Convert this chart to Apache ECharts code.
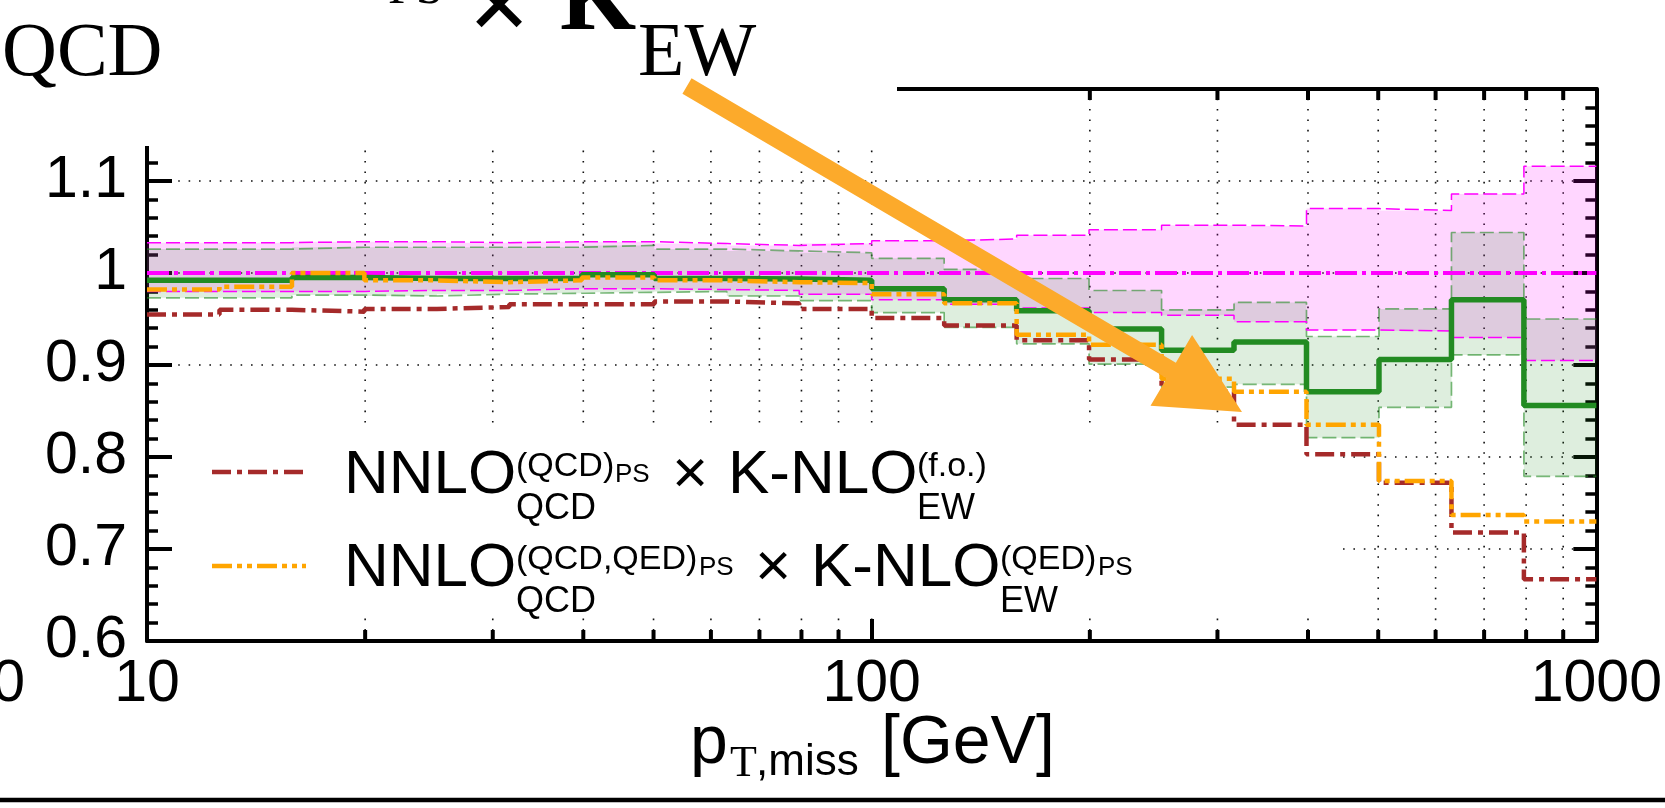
<!DOCTYPE html>
<html>
<head>
<meta charset="utf-8">
<script src="https://cdn.jsdelivr.net/npm/echarts@6/dist/echarts.min.js"></script>
<style>
  html, body { margin: 0; padding: 0; background: #fff; }
  #chart { width: 1665px; height: 808px; }
</style>
</head>
<body>
<div id="chart"></div>
<script>
// p_T,miss bin edges in GeV (ten logarithmic bins per decade)
const binEdges = [10, 12.59, 15.85, 19.95, 25.12, 31.62, 39.81, 50.12, 63.10, 79.43,
                  100, 125.9, 158.5, 199.5, 251.2, 316.2, 398.1, 501.2, 631.0, 794.3, 1000];

// Reference prediction (ratio = 1) and its scale-uncertainty envelope, magenta
const refCentral = [1, 1, 1, 1, 1, 1, 1, 1, 1, 1, 1, 1, 1, 1, 1, 1, 1, 1, 1, 1];
const refUpper   = [1.033, 1.033, 1.034, 1.034, 1.033, 1.034, 1.034, 1.032, 1.030, 1.032,
                    1.035, 1.037, 1.041, 1.047, 1.052, 1.051, 1.070, 1.068, 1.086, 1.116];
const refLower   = [0.980, 0.980, 0.980, 0.981, 0.981, 0.983, 0.983, 0.982, 0.981, 0.977,
                    0.971, 0.966, 0.962, 0.957, 0.954, 0.947, 0.938, 0.937, 0.930, 0.905];

// Combined prediction with its uncertainty envelope, green
const combCentral = [0.992, 0.992, 0.995, 0.994, 0.994, 0.994, 0.998, 0.994, 0.9935, 0.992,
                     0.983, 0.971, 0.959, 0.939, 0.916, 0.925, 0.871, 0.906, 0.971, 0.856];
const combUpper   = [1.026, 1.026, 1.028, 1.028, 1.028, 1.028, 1.030, 1.026, 1.024, 1.022,
                     1.016, 1.004, 0.994, 0.981, 0.960, 0.968, 0.931, 0.961, 1.044, 0.950];
const combLower   = [0.973, 0.973, 0.976, 0.975, 0.977, 0.978, 0.979, 0.980, 0.975, 0.970,
                     0.957, 0.941, 0.923, 0.901, 0.876, 0.879, 0.821, 0.854, 0.911, 0.779];

// NNLO(QCD)PS x K-NLO(f.o.)EW, dark red
const ratioFO  = [0.955, 0.960, 0.958, 0.961, 0.963, 0.966, 0.966, 0.969, 0.967, 0.961,
                  0.951, 0.943, 0.927, 0.906, 0.871, 0.835, 0.803, 0.772, 0.718, 0.667];
// NNLO(QCD,QED)PS x K-NLO(QED)PS EW, orange
const ratioQED = [0.982, 0.985, 1.000, 0.992, 0.990, 0.992, 0.995, 0.992, 0.990, 0.989,
                  0.977, 0.967, 0.933, 0.922, 0.885, 0.871, 0.835, 0.774, 0.737, 0.730];

// Axis ranges, grid and minor tick positions
const xRange = [10, 1000];
const yRange = [0.6, 1.2];
const yStep = 0.1;
const xGridValues  = [20, 30, 40, 50, 60, 70, 80, 90, 100, 200, 300, 400, 500, 600, 700, 800, 900];
const xMinorTicks  = [20, 30, 40, 50, 60, 70, 80, 90, 200, 300, 400, 500, 600, 700, 800, 900];

const SANS = 'Liberation Sans, Arial, Helvetica, sans-serif';
const SERIF = 'Liberation Serif, Times New Roman, serif';

const chart = echarts.init(document.getElementById('chart'), null, { renderer: 'canvas' });

// Histogram points for a step line: one point per lower edge plus the last upper edge
function stepData(values) {
  const pts = values.map((v, i) => [binEdges[i], v]);
  pts.push([binEdges[values.length], values[values.length - 1]]);
  return pts;
}

// Filled step band between two histograms
function bandSeries(lo, hi, fill, z) {
  return {
    type: 'custom', z: z, silent: true, clip: true,
    data: [[100, 1]],
    renderItem: function (params, api) {
      const pts = [];
      for (let i = 0; i < hi.length; i++) {
        pts.push(api.coord([binEdges[i], hi[i]]));
        pts.push(api.coord([binEdges[i + 1], hi[i]]));
      }
      for (let i = lo.length - 1; i >= 0; i--) {
        pts.push(api.coord([binEdges[i + 1], lo[i]]));
        pts.push(api.coord([binEdges[i], lo[i]]));
      }
      return { type: 'polygon', shape: { points: pts }, style: { fill: fill } };
    }
  };
}

function stepLine(values, color, width, dash, z) {
  return {
    type: 'line', step: 'end', z: z, silent: true,
    symbol: 'none', data: stepData(values),
    lineStyle: { color: color, width: width, type: dash, cap: 'butt' }
  };
}

// Dotted vertical grid lines
const gridSeries = {
  type: 'custom', z: 0, silent: true,
  data: [[100, 1]],
  renderItem: function (params, api) {
    return {
      type: 'group',
      children: xGridValues.map(function (v) {
        const a = api.coord([v, yRange[0]]);
        const b = api.coord([v, yRange[1]]);
        return {
          type: 'line',
          shape: { x1: a[0], y1: a[1], x2: b[0], y2: b[1] },
          style: { stroke: '#111', lineWidth: 1.6, lineDash: [1.6, 8.8] }
        };
      })
    };
  }
};

// Minor ticks of the logarithmic axes, bottom and top
const minorTickSeries = {
  type: 'custom', z: 3, silent: true,
  data: [[100, 1]],
  renderItem: function (params, api) {
    const children = [];
    xMinorTicks.forEach(function (v) {
      const a = api.coord([v, yRange[0]]);
      const b = api.coord([v, yRange[1]]);
      children.push({ type: 'line', shape: { x1: a[0], y1: a[1], x2: a[0], y2: a[1] - 11 },
                      style: { stroke: '#000', lineWidth: 4 } });
      children.push({ type: 'line', shape: { x1: b[0], y1: b[1], x2: b[0], y2: b[1] + 11 },
                      style: { stroke: '#000', lineWidth: 4 } });
    });
    return { type: 'group', children: children };
  }
};

// Text placed on an alphabetic baseline
function txt(str, x, baseline, size, family, extra) {
  const asc = family === SERIF ? 0.30 : 0.347;
  return Object.assign({
    type: 'text', z: 20, silent: true,
    style: {
      text: str, x: x, y: baseline - asc * size,
      font: size + 'px ' + family, fill: '#000',
      align: 'left', verticalAlign: 'middle'
    }
  }, extra || {});
}

function boldTxt(str, x, baseline, size, family) {
  const t = txt(str, x, baseline, size, family);
  t.style.font = 'bold ' + size + 'px ' + family;
  return t;
}

// Arrow geometry
const arrowStart = [687, 86], arrowTip = [1242, 412];
const shaftHalf = 9, headHalf = 41, headLen = 82;
const arrowPoints = (function () {
  const dx = arrowTip[0] - arrowStart[0], dy = arrowTip[1] - arrowStart[1];
  const L = Math.hypot(dx, dy), ux = dx / L, uy = dy / L, nx = -uy, ny = ux;
  const bx = arrowTip[0] - ux * headLen, by = arrowTip[1] - uy * headLen;
  return [
    [arrowStart[0] - nx * shaftHalf, arrowStart[1] - ny * shaftHalf],
    [bx - nx * shaftHalf, by - ny * shaftHalf],
    [bx - nx * headHalf, by - ny * headHalf],
    arrowTip,
    [bx + nx * headHalf, by + ny * headHalf],
    [bx + nx * shaftHalf, by + ny * shaftHalf],
    [arrowStart[0] + nx * shaftHalf, arrowStart[1] + ny * shaftHalf]
  ];
})();

const axisLineStyle = { color: '#000', width: 4 };

const option = {
  animation: false,
  backgroundColor: '#fff',
  grid: { left: 147, right: 58, top: 89, bottom: 167, containLabel: false },
  xAxis: [
    {
      type: 'log', logBase: 10, min: xRange[0], max: xRange[1], position: 'bottom',
      axisLine: { show: true, lineStyle: axisLineStyle },
      axisTick: { show: true, inside: true, length: 22, lineStyle: { color: '#000', width: 4 } },
      axisLabel: { show: true, fontSize: 59, fontFamily: SANS, color: '#000', margin: 14,
                   formatter: function (v) { return String(Math.round(v)); } },
      splitLine: { show: false }, minorTick: { show: false }
    },
    {
      type: 'log', logBase: 10, min: xRange[0], max: xRange[1], position: 'top',
      axisLine: { show: true, lineStyle: axisLineStyle },
      axisTick: { show: true, inside: true, length: 22, lineStyle: { color: '#000', width: 4 } },
      axisLabel: { show: false }, splitLine: { show: false }
    }
  ],
  yAxis: [
    {
      type: 'value', min: yRange[0], max: yRange[1], interval: yStep, position: 'left',
      axisLine: { show: true, lineStyle: axisLineStyle },
      axisTick: { show: true, inside: true, length: 25, lineStyle: { color: '#000', width: 4 } },
      minorTick: { show: true, splitNumber: 5, length: 11, lineStyle: { color: '#000', width: 3.5 } },
      axisLabel: { show: true, fontSize: 59, fontFamily: SANS, color: '#000', margin: 20,
                   formatter: function (v) { return Math.abs(v - yRange[1]) < 1e-6 ? '' : String(+v.toFixed(1)); } },
      splitLine: { show: true, lineStyle: { color: '#111', width: 1.6, type: [1.6, 8.8] } }
    },
    {
      type: 'value', min: yRange[0], max: yRange[1], interval: yStep, position: 'right',
      axisLine: { show: true, lineStyle: axisLineStyle },
      axisTick: { show: true, inside: true, length: 23, lineStyle: { color: '#000', width: 4 } },
      minorTick: { show: true, splitNumber: 5, length: 11, lineStyle: { color: '#000', width: 3.5 } },
      axisLabel: { show: false }, splitLine: { show: false }
    }
  ],
  series: [
    gridSeries,
    bandSeries(refLower, refUpper, 'rgba(255,0,255,0.16)', 2),
    bandSeries(combLower, combUpper, 'rgba(34,139,34,0.15)', 2),
    stepLine(combUpper, 'rgba(34,139,34,0.6)', 1.7, [14, 5], 3),
    stepLine(combLower, 'rgba(34,139,34,0.6)', 1.7, [14, 5], 3),
    stepLine(refUpper, '#ff00ff', 1.5, [14, 5], 3),
    stepLine(refLower, '#ff00ff', 1.5, [14, 5], 3),
    minorTickSeries,
    stepLine(refCentral, '#ff00ff', 4, [22, 5, 4, 5], 4),
    stepLine(combCentral, '#228b22', 5.5, 'solid', 5),
    stepLine(ratioFO, '#a52a2a', 4.5, [19, 6, 5, 6], 6),
    stepLine(ratioQED, '#ffa500', 4.5, [20, 5, 5, 5, 5, 5], 7)
  ],
  graphic: [
    // key background
    { type: 'rect', z: 1, silent: true, shape: { x: 174, y: 428, width: 1169, height: 190 },
      style: { fill: '#fff' } },
    // key samples
    { type: 'line', z: 20, silent: true, shape: { x1: 212, y1: 472, x2: 306, y2: 472 },
      style: { stroke: '#a52a2a', lineWidth: 4.5, lineDash: [19, 6, 5, 6] } },
    { type: 'line', z: 20, silent: true, shape: { x1: 212, y1: 566, x2: 306, y2: 566 },
      style: { stroke: '#ffa500', lineWidth: 4.5, lineDash: [20, 5, 5, 5, 5, 5] } },
    // key entry 1
    txt('NNLO', 344, 497, 62, SANS),
    txt('(QCD)', 516, 478, 34, SANS),
    txt('PS', 615, 484, 26, SANS),
    txt('QCD', 516, 522, 36, SANS),
    txt('\u00d7', 672, 497, 62, SANS),
    txt('K-NLO', 728, 497, 62, SANS),
    txt('(f.o.)', 917, 478, 34, SANS),
    txt('EW', 917, 522, 36, SANS),
    // key entry 2
    txt('NNLO', 344, 590, 62, SANS),
    txt('(QCD,QED)', 516, 571, 34, SANS),
    txt('PS', 699, 577, 26, SANS),
    txt('QCD', 516, 615, 36, SANS),
    txt('\u00d7', 755, 590, 62, SANS),
    txt('K-NLO', 811, 590, 62, SANS),
    txt('(QED)', 1000, 571, 34, SANS),
    txt('PS', 1098, 577, 26, SANS),
    txt('EW', 1000, 615, 36, SANS),
    // heading area background
    { type: 'rect', z: 15, silent: true, shape: { x: 0, y: 0, width: 897, height: 146 },
      style: { fill: '#fff' } },
    txt('QCD', 2, 78, 76, SERIF),
    txt('PS', 388, 5, 50, SERIF),
    boldTxt('\u00d7', 468, 46, 110, SERIF),
    boldTxt('K', 560, 33, 98, SERIF),
    txt('EW', 638, 78, 76, SERIF),
    // stray label edge on the left
    txt('0', 25, 705, 59, SANS, { style: { text: '0', x: 25, y: 705 - 0.347 * 59, font: '59px ' + SANS,
                                           fill: '#000', align: 'right', verticalAlign: 'middle' } }),
    // axis title
    txt('p', 690, 768, 68, SANS),
    txt('T', 730, 778, 44, SERIF),
    txt(',miss', 756, 778, 44, SANS),
    txt('[GeV]', 881, 768, 68, SANS),
    // rule of the panel below
    { type: 'line', z: 20, silent: true, shape: { x1: 0, y1: 800, x2: 1665, y2: 800 },
      style: { stroke: '#000', lineWidth: 4.5 } },
    // arrow
    { type: 'polygon', z: 30, silent: true, shape: { points: arrowPoints },
      style: { fill: '#fcaa2b' } }
  ]
};

chart.setOption(option);
</script>
</body>
</html>
